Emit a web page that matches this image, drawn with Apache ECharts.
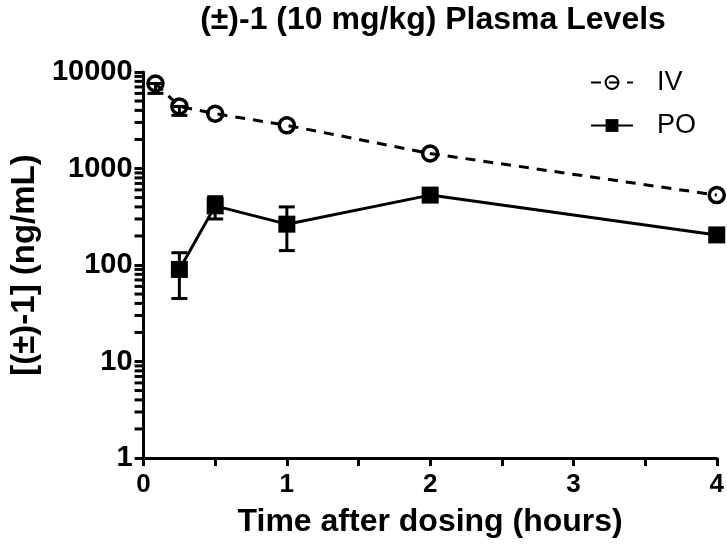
<!DOCTYPE html>
<html>
<head>
<meta charset="utf-8">
<script src="https://cdn.jsdelivr.net/npm/echarts@6/dist/echarts.min.js"></script>
<style>html,body{margin:0;padding:0;background:#fff;}#c{width:727px;height:551px;}</style>
</head>
<body>
<div id="c"></div>
<script>
// Data
const ivTimes = [0.083, 0.25, 0.5, 1, 2, 4];
const ivValues = [7600, 4400, 3700, 2800, 1430, 530];
const ivLow = [6000, 3550, null, null, null, null];
const poTimes = [0.25, 0.5, 1, 2, 4];
const poValues = [90, 410, 265, 530, 205];
const poLow = [45, 300, 141, 480, 185];
const poHigh = [134, 510, 400, 580, 225];
const yMinorTicks = [2,3,4,5,6,7,8,9,20,30,40,50,60,70,80,90,200,300,400,500,600,700,800,900,2000,3000,4000,5000,6000,7000,8000,9000];
const xTickLabels = ['0', '1', '2', '3', '4'];

const SANS = "'Liberation Sans', Arial, sans-serif";

const chart = echarts.init(document.getElementById('c'));
const ivData = ivTimes.map((t, i) => [t, ivValues[i]]);
const poData = poTimes.map((t, i) => [t, poValues[i]]);
const poErrData = poTimes.map((t, i) => [t, poLow[i], poHigh[i]]);
const ivErrData = ivTimes.map((t, i) => [t, ivLow[i], ivValues[i]]).filter(d => d[1] != null);

function errRender(params, api) {
  const lo = api.coord([api.value(0), api.value(1)]);
  const hi = api.coord([api.value(0), api.value(2)]);
  const w = 8;
  const st = { stroke: '#000', lineWidth: 3 };
  return { type: 'group', children: [
    { type: 'line', shape: { x1: lo[0], y1: lo[1], x2: hi[0], y2: hi[1] }, style: st },
    { type: 'line', shape: { x1: lo[0] - w, y1: lo[1], x2: lo[0] + w, y2: lo[1] }, style: st },
    { type: 'line', shape: { x1: hi[0] - w, y1: hi[1], x2: hi[0] + w, y2: hi[1] }, style: st }
  ] };
}

chart.setOption({
  animation: false,
  backgroundColor: '#fff',
  title: {
    text: '(±)-1 (10 mg/kg) Plasma Levels',
    left: 428, textAlign: 'center', top: -1,
    textStyle: { fontFamily: SANS, fontWeight: 'bold', fontSize: 32, color: '#000' }
  },
  legend: {
    orient: 'vertical', left: 585, top: 64,
    itemWidth: 42, itemHeight: 16, itemGap: 16,
    textStyle: { fontFamily: SANS, fontSize: 27, color: '#000', padding: [0,0,0,19] },
    data: ['IV', 'PO']
  },
  grid: { left: 133, right: 10, top: 72, bottom: 93 },
  xAxis: {
    type: 'value', min: 0, max: 4, interval: 0.5,
    name: 'Time after dosing (hours)', nameLocation: 'middle', nameGap: 48,
    nameTextStyle: { fontFamily: SANS, fontWeight: 'bold', fontSize: 32, color: '#000' },
    axisLine: { show: true, lineStyle: { color: '#000', width: 3 } },
    axisTick: { show: true, length: 8, lineStyle: { color: '#000', width: 3 } },
    axisLabel: {
      fontFamily: SANS, fontWeight: 'bold', fontSize: 26, color: '#000', margin: 14,
      formatter: v => (Number.isInteger(v) ? xTickLabels[v] : '')
    },
    splitLine: { show: false }
  },
  yAxis: {
    type: 'log', logBase: 10, min: 1, max: 10000,
    name: '[(±)-1] (ng/mL)', nameLocation: 'middle', nameGap: 96,
    nameTextStyle: { fontFamily: SANS, fontWeight: 'bold', fontSize: 33, color: '#000' },
    axisLine: { show: true, lineStyle: { color: '#000', width: 3 } },
    axisTick: { show: true, length: 9, lineStyle: { color: '#000', width: 3 } },
    axisLabel: { fontFamily: SANS, fontWeight: 'bold', fontSize: 29, color: '#000', margin: 11,
      formatter: v => String(v) },
    splitLine: { show: false }
  },
  series: [
    {
      name: 'IV', type: 'line', data: ivData,
      symbol: 'circle', symbolSize: 15,
      lineStyle: { color: '#000', width: 3, type: [10, 8] },
      itemStyle: { color: 'rgba(255,255,255,0)', borderColor: '#000', borderWidth: 3.5 },
      z: 3
    },
    {
      name: 'IVerr', type: 'custom', z: 2, data: ivErrData, renderItem: errRender
    },
    {
      name: 'POerr', type: 'custom', z: 2, data: poErrData, renderItem: errRender
    },
    {
      name: 'PO', type: 'line', data: poData,
      symbol: 'rect', symbolSize: 17,
      lineStyle: { color: '#000', width: 3 },
      itemStyle: { color: '#000' },
      z: 3
    },
    {
      name: 'yMinor', type: 'custom', z: 10, clip: false,
      data: yMinorTicks.map(v => [0.2, v]),
      renderItem: (params, api) => {
        const p = api.coord([0, api.value(1)]);
        return { type: 'rect', shape: { x: p[0] - 9, y: p[1] - 1.5, width: 9, height: 3 },
          style: { fill: '#000' } };
      }
    }
  ]
});
</script>
</body>
</html>
